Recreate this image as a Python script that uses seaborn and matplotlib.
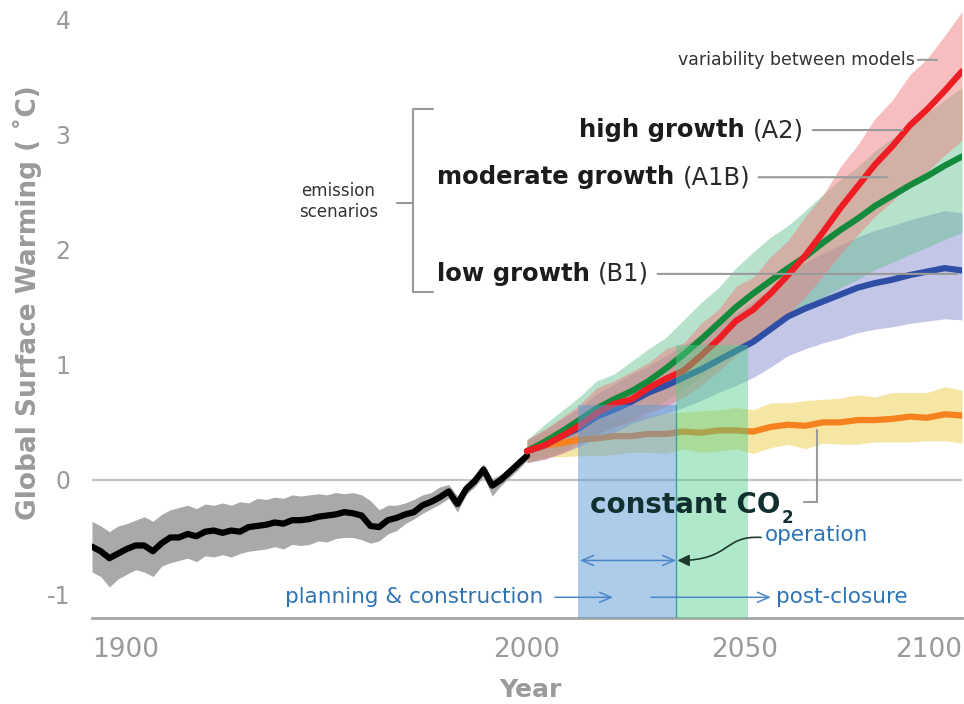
import seaborn as sns
import matplotlib.pyplot as plt
import pandas as pd
from matplotlib.patches import Rectangle, FancyArrowPatch
from matplotlib.path import Path

hist_years = list(range(1900, 2001, 2))
hist_temp = [-0.58, -0.62, -0.68, -0.64, -0.60, -0.57, -0.57, -0.62, -0.55, -0.50,
             -0.50, -0.47, -0.49, -0.45, -0.44, -0.46, -0.44, -0.45, -0.41, -0.40,
             -0.39, -0.37, -0.38, -0.35, -0.35, -0.34, -0.32, -0.31, -0.30, -0.28,
             -0.29, -0.31, -0.40, -0.41, -0.35, -0.33, -0.30, -0.28, -0.22, -0.19,
             -0.15, -0.10, -0.21, -0.08, -0.01, 0.09, -0.05, 0.00, 0.07, 0.14,
             0.21]
hist_hi = [-0.36, -0.40, -0.45, -0.40, -0.38, -0.35, -0.32, -0.36, -0.30, -0.26,
           -0.24, -0.22, -0.25, -0.21, -0.22, -0.20, -0.22, -0.19, -0.20, -0.16,
           -0.17, -0.15, -0.16, -0.13, -0.14, -0.13, -0.12, -0.13, -0.11, -0.12,
           -0.11, -0.13, -0.18, -0.26, -0.22, -0.22, -0.20, -0.17, -0.13, -0.11,
           -0.06, -0.04, -0.14, -0.03, 0.04, 0.14, 0.01, 0.05, 0.11, 0.18,
           0.25]
hist_lo = [-0.80, -0.84, -0.93, -0.86, -0.82, -0.78, -0.80, -0.84, -0.75, -0.72,
           -0.70, -0.68, -0.71, -0.66, -0.67, -0.65, -0.67, -0.64, -0.62, -0.61,
           -0.60, -0.58, -0.60, -0.56, -0.57, -0.56, -0.53, -0.54, -0.51, -0.50,
           -0.50, -0.52, -0.55, -0.53, -0.47, -0.44, -0.38, -0.34, -0.29, -0.25,
           -0.21, -0.16, -0.28, -0.13, -0.06, 0.03, -0.14, -0.05, 0.02, 0.09,
           0.17]

# projections, every 4 years
proj_years = list(range(2000, 2101, 4))
a2 = [0.25, 0.30, 0.38, 0.47, 0.58, 0.66, 0.70, 0.80, 0.88, 0.95, 1.08, 1.22, 1.38,
      1.48, 1.62, 1.78, 1.95, 2.15, 2.36, 2.55, 2.74, 2.90, 3.08, 3.22, 3.38, 3.55]
a2_up = [0.10, 0.14, 0.16, 0.18, 0.22, 0.20, 0.24, 0.22, 0.26, 0.24, 0.28, 0.26, 0.30,
         0.28, 0.32, 0.30, 0.34, 0.32, 0.36, 0.36, 0.40, 0.40, 0.44, 0.44, 0.48, 0.52]
a2_dn = [0.10, 0.12, 0.15, 0.16, 0.18, 0.20, 0.19, 0.22, 0.24, 0.23, 0.26, 0.28, 0.30,
         0.29, 0.32, 0.34, 0.36, 0.38, 0.40, 0.42, 0.45, 0.48, 0.50, 0.54, 0.56, 0.60]
a1b = [0.25, 0.33, 0.42, 0.52, 0.62, 0.70, 0.77, 0.86, 0.97, 1.09, 1.22, 1.36, 1.50,
       1.62, 1.73, 1.84, 1.94, 2.06, 2.17, 2.27, 2.38, 2.47, 2.56, 2.64, 2.73, 2.81]
a1b_up = [0.10, 0.15, 0.18, 0.20, 0.24, 0.22, 0.26, 0.28, 0.27, 0.30, 0.32, 0.31, 0.34,
          0.36, 0.38, 0.37, 0.40, 0.42, 0.44, 0.45, 0.48, 0.50, 0.52, 0.55, 0.57, 0.60]
a1b_dn = [0.10, 0.14, 0.17, 0.19, 0.22, 0.24, 0.23, 0.26, 0.28, 0.30, 0.32, 0.34, 0.36,
          0.38, 0.40, 0.42, 0.45, 0.48, 0.50, 0.53, 0.55, 0.58, 0.60, 0.62, 0.64, 0.66]
b1 = [0.25, 0.30, 0.38, 0.45, 0.55, 0.61, 0.68, 0.76, 0.82, 0.89, 0.96, 1.04, 1.12,
      1.20, 1.31, 1.42, 1.49, 1.55, 1.61, 1.67, 1.71, 1.74, 1.78, 1.81, 1.84, 1.82]
b1_up = [0.10, 0.13, 0.15, 0.17, 0.20, 0.22, 0.24, 0.23, 0.26, 0.28, 0.30, 0.32, 0.33,
         0.35, 0.36, 0.38, 0.40, 0.42, 0.43, 0.44, 0.46, 0.47, 0.48, 0.49, 0.50, 0.50]
b1_dn = [0.10, 0.12, 0.15, 0.16, 0.18, 0.20, 0.19, 0.22, 0.24, 0.26, 0.27, 0.28, 0.30,
         0.31, 0.33, 0.34, 0.35, 0.36, 0.38, 0.39, 0.40, 0.41, 0.42, 0.43, 0.44, 0.43]
const = [0.25, 0.30, 0.32, 0.35, 0.36, 0.38, 0.38, 0.40, 0.40, 0.42, 0.41, 0.43, 0.43,
         0.42, 0.46, 0.48, 0.47, 0.50, 0.50, 0.52, 0.52, 0.53, 0.55, 0.54, 0.57, 0.56]
const_up = [0.08, 0.12, 0.14, 0.15, 0.16, 0.14, 0.17, 0.16, 0.18, 0.17, 0.19, 0.18, 0.20,
            0.19, 0.21, 0.19, 0.22, 0.20, 0.21, 0.22, 0.20, 0.23, 0.21, 0.22, 0.24, 0.22]
const_dn = [0.08, 0.10, 0.12, 0.14, 0.15, 0.16, 0.14, 0.16, 0.17, 0.15, 0.17, 0.18, 0.16,
            0.19, 0.18, 0.17, 0.20, 0.18, 0.19, 0.21, 0.19, 0.20, 0.22, 0.20, 0.23, 0.24]

# project phases (years)
phase_blue = (2011.7, 2034.3)
phase_green = (2034.3, 2050.8)

xtick_vals = [1900, 2000, 2050, 2100]
xtick_labels = ['1900', '2000', '2050', '2100']
ytick_vals = [-1, 0, 1, 2, 3, 4]

sns.set_theme(style="white")
plt.rcParams['font.family'] = ['DejaVu Sans']
plt.rcParams['axes.unicode_minus'] = False

hist = pd.DataFrame({'year': hist_years, 'temp': hist_temp, 'lo': hist_lo, 'hi': hist_hi})
proj = pd.DataFrame({'year': proj_years, 'A2': a2, 'A1B': a1b, 'B1': b1, 'const': const})

fig = plt.figure(figsize=(9.64, 7.04), dpi=100)
ax = fig.add_axes([92 / 964, 86 / 704, 870 / 964, 618 / 704])

ax.axhline(0, color='#c4c4c4', lw=1.6, zorder=0.5)

# spread bands
ax.fill_between(hist['year'], hist['lo'], hist['hi'], color='#a9a9a9', lw=0, zorder=1)
scenarios = [
    ('const', const_up, const_dn, '#efd35a', 0.55, '#f5821f'),
    ('B1', b1_up, b1_dn, '#8b8fd0', 0.5, '#2f4fa6'),
    ('A1B', a1b_up, a1b_dn, '#5ec08e', 0.45, '#148a3c'),
    ('A2', a2_up, a2_dn, '#ef7f7f', 0.5, '#ee1d23'),
]
for name, up, dn, band_col, alpha, _ in scenarios:
    lo = [v - d for v, d in zip(proj[name], dn)]
    hi = [v + u for v, u in zip(proj[name], up)]
    ax.fill_between(proj['year'], lo, hi, color=band_col, alpha=alpha, lw=0, zorder=1.5)

sns.lineplot(data=hist, x='year', y='temp', color='black', linewidth=4.5, ax=ax, zorder=3)
for name, _, _, _, _, line_col in scenarios:
    sns.lineplot(data=proj, x='year', y=name, color=line_col, linewidth=4.5, ax=ax, zorder=3)

# phase rectangles drawn over the curves
ax.add_patch(Rectangle((phase_blue[0], -1.2), phase_blue[1] - phase_blue[0], 1.85,
                       color='#5b9bd5', alpha=0.5, lw=0, zorder=4))
ax.add_patch(Rectangle((phase_green[0], -1.2), phase_green[1] - phase_green[0], 2.37,
                       color='#4fcf8a', alpha=0.45, lw=0, zorder=4))
ax.plot([phase_green[0], phase_green[0]], [-1.2, 0.65], color='#3f9f9a', lw=1, zorder=4)

ax.set_xlim(1900, 2100)
ax.set_ylim(-1.2, 4.17)
ax.set_xlabel('')
ax.set_ylabel('')

for side in ['left', 'right', 'top']:
    ax.spines[side].set_visible(False)
ax.spines['bottom'].set_color('#a6a6a6')
ax.spines['bottom'].set_linewidth(2)

ax.set_xticks(xtick_vals, xtick_labels)
ax.set_xticks([1920, 1940, 1960, 1980, 2020, 2040, 2060, 2080], minor=True)
ax.tick_params(axis='x', which='major', direction='out', length=11, width=1.8,
               color='#a6a6a6', labelsize=19, labelcolor='#9a9a9a', pad=3)
ax.tick_params(axis='x', which='minor', direction='out', length=6, width=1.8, color='#a6a6a6')
ax.xaxis.get_major_ticks()[2].tick1line.set_visible(False)
xl = ax.get_xticklabels()
xl[0].set_ha('left')
xl[-1].set_ha('right')

ax.set_yticks(ytick_vals, [str(v) for v in ytick_vals])
ax.set_yticks([v / 5 for v in range(-4, 20) if v % 5], minor=True)
ax.tick_params(axis='y', which='major', direction='out', length=9.5, width=1.8,
               color='#a6a6a6', labelsize=17, labelcolor='#9a9a9a', pad=6)
ax.tick_params(axis='y', which='minor', direction='out', length=5, width=1.8, color='#a6a6a6')

fig.text(27 / 964, 1 - 303 / 704, 'Global Surface Warming ( ˚C)', rotation=90,
         ha='center', va='center', fontsize=19, fontweight='bold', color='#9a9a9a')
fig.text(530 / 964, 1 - 690 / 704, 'Year', ha='center', va='center',
         fontsize=18, fontweight='bold', color='#9a9a9a')

grey = '#9a9a9a'
ink = '#1c1c1c'

t = ax.text(2089.2, 3.65, 'variability between models', ha='right', va='center',
            fontsize=12.5, color='#333333', zorder=5)
ax.annotate('', xy=(2094.3, 3.65), xytext=(1, 0.5), textcoords=t,
            arrowprops=dict(arrowstyle='-', color=grey, lw=1.5, shrinkA=2, shrinkB=0))

labels = [('high growth', '(A2)', 2012.0, 3.04, 2086.4),
          ('moderate growth', '(A1B)', 1979.3, 2.63, 2082.8),
          ('low growth', '(B1)', 1979.3, 1.79, 2098.9)]
for bold, paren, x0, y0, x1 in labels:
    tb = ax.text(x0, y0, bold, fontsize=17.5, fontweight='bold', color=ink, va='center', zorder=5)
    tp = ax.annotate(paren, xy=(1, 0.5), xycoords=tb, xytext=(6, 0), textcoords='offset points',
                     fontsize=17.5, color='#2a2a2a', va='center', zorder=5)
    ax.annotate('', xy=(x1, y0), xytext=(1, 0.5), textcoords=tp,
                arrowprops=dict(arrowstyle='-', color=grey, lw=1.5, shrinkA=6, shrinkB=0))

# bracket for the emission scenarios
ax.plot([1978.4, 1973.8, 1973.8, 1978.4], [3.22, 3.22, 1.63, 1.63], color=grey, lw=1.5)
ax.plot([1970.1, 1973.8], [2.41, 2.41], color=grey, lw=1.5)
ax.text(1956.6, 2.42, 'emission\nscenarios', ha='center', va='center', fontsize=12,
        color='#333333', linespacing=1.2)

tc = ax.text(2014.5, -0.22, 'constant CO', fontsize=20, fontweight='bold', color='#12302f',
             va='center', zorder=5)
ax.annotate('2', xy=(1, 0.05), xycoords=tc, xytext=(1, 0), textcoords='offset points',
            fontsize=12, fontweight='bold', color='#12302f', va='center', zorder=5)
ax.plot([2063.6, 2066.7, 2066.7], [-0.19, -0.19, 0.43], color=grey, lw=1.5, zorder=5)

# project phase labels
blue = '#2e74b5'
arrow_blue = '#4a86c8'
ax.text(2003.7, -1.02, 'planning & construction', ha='right', va='center', fontsize=15.5,
        color=blue, zorder=5)
ax.text(2054.6, -0.48, 'operation', ha='left', va='center', fontsize=15.5, color=blue, zorder=5)
ax.text(2057.2, -1.02, 'post-closure', ha='left', va='center', fontsize=15.5, color=blue, zorder=5)

head = ',head_length=0.7,head_width=0.3'
ax.annotate('', xy=(2019.8, -1.02), xytext=(2006.4, -1.02),
            arrowprops=dict(arrowstyle='->' + head, color=arrow_blue, lw=1.1, shrinkA=0, shrinkB=0),
            zorder=5)
ax.annotate('', xy=(2056.1, -1.02), xytext=(2028.5, -1.02),
            arrowprops=dict(arrowstyle='->' + head, color=arrow_blue, lw=1.1, shrinkA=0, shrinkB=0),
            zorder=5)
ax.annotate('', xy=(2034.3, -0.70), xytext=(2012.2, -0.70),
            arrowprops=dict(arrowstyle='<->' + head, color=arrow_blue, lw=1.1, shrinkA=0, shrinkB=0),
            zorder=5)

curve = Path([(2053.8, -0.50), (2045.0, -0.48), (2047.0, -0.70), (2034.6, -0.70)],
             [Path.MOVETO, Path.CURVE4, Path.CURVE4, Path.CURVE4])
ax.add_patch(FancyArrowPatch(path=curve, arrowstyle='-|>,head_length=0.5,head_width=0.25',
                             mutation_scale=14, color='#1d3a2c', lw=1.2, zorder=5))

fig.savefig('out.png', dpi=100)
